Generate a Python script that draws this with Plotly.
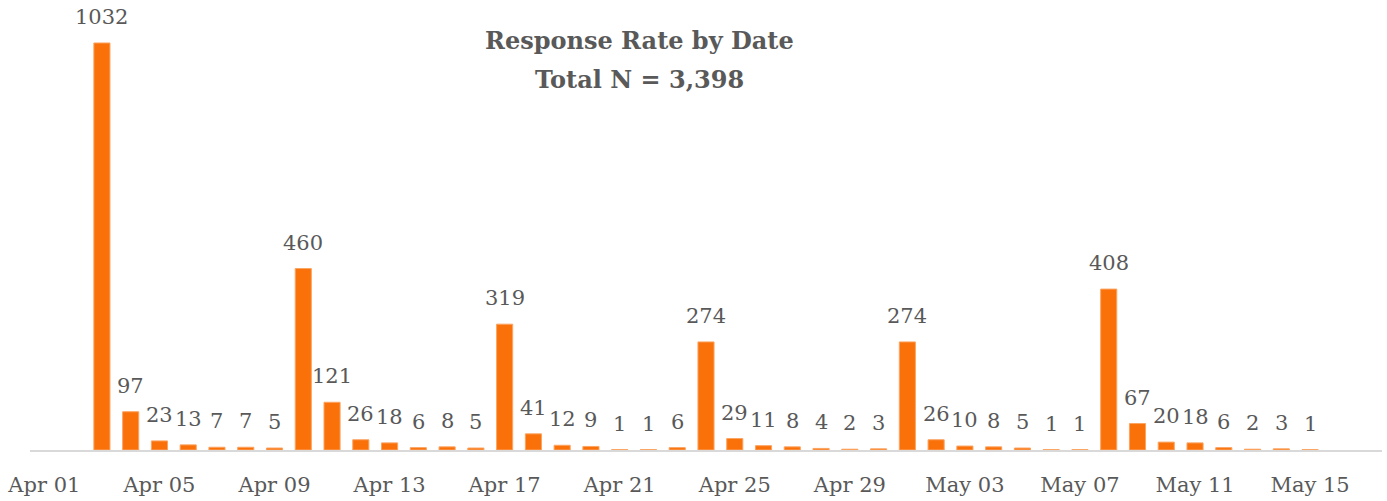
import plotly.graph_objects as go
import pandas as pd

start_date = "2020-04-03"
values = [1032, 97, 23, 13, 7, 7, 5, 460, 121, 26, 18, 6, 8, 5, 319, 41, 12, 9, 1, 1, 6,
          274, 29, 11, 8, 4, 2, 3, 274, 26, 10, 8, 5, 1, 1, 408, 67, 20, 18, 6, 2, 3, 1]
dates = pd.date_range(start_date, periods=len(values), freq="D")
title_lines = ["Response Rate by Date", "Total N = 3,398"]

FONT = "Roboto Slab, DejaVu Serif, serif"
GRAY = "#595959"

M_T, M_B, M_L, M_R = 10, 51, 30, 5
PH = 501 - M_T - M_B
PW = 1387 - M_L - M_R


def px_to_paper_y(ypx):
    return (501 - M_B - ypx) / PH


def px_to_paper_x(xpx):
    return (xpx - M_L) / PW


fig = go.Figure()
fig.add_trace(go.Bar(
    x=dates, y=values,
    marker=dict(color="#F97108", line=dict(color="#FBA462", width=1)),
    cliponaxis=False, hoverinfo="x+y",
))

annots = []
for d, v in zip(dates, values):
    annots.append(dict(text=str(v), x=d, y=v, xref="x", yref="y",
                       xanchor="center", yanchor="middle", yshift=26,
                       showarrow=False, font=dict(family=FONT, size=21, color=GRAY)))
for line, ypx in zip(title_lines, [41, 80]):
    annots.append(dict(text="<b>%s</b>" % line, x=px_to_paper_x(639), y=px_to_paper_y(ypx),
                       xref="paper", yref="paper", xanchor="center", yanchor="middle",
                       showarrow=False, font=dict(family=FONT, size=24, color=GRAY)))

fig.update_layout(
    width=1387, height=501,
    margin=dict(l=M_L, r=M_R, t=M_T, b=M_B),
    paper_bgcolor="white", plot_bgcolor="white",
    showlegend=False, bargap=0.44,
    annotations=annots,
)

fig.update_xaxes(
    type="date", range=["2020-03-31 12:00", "2020-05-17 12:00"],
    tick0="2020-04-01", dtick=4 * 86400000, tickformat="%b %d",
    showgrid=False, zeroline=False, showline=True, linecolor="#D9D9D9", linewidth=2,
    ticks="", ticklabelstandoff=15,
    tickfont=dict(family=FONT, size=21, color=GRAY),
)
fig.update_yaxes(range=[0, 1115.6], visible=False, showgrid=False, zeroline=False)

fig.write_html("out.html", config={"displayModeBar": False},
               post_script="document.body.style.margin='0';")
